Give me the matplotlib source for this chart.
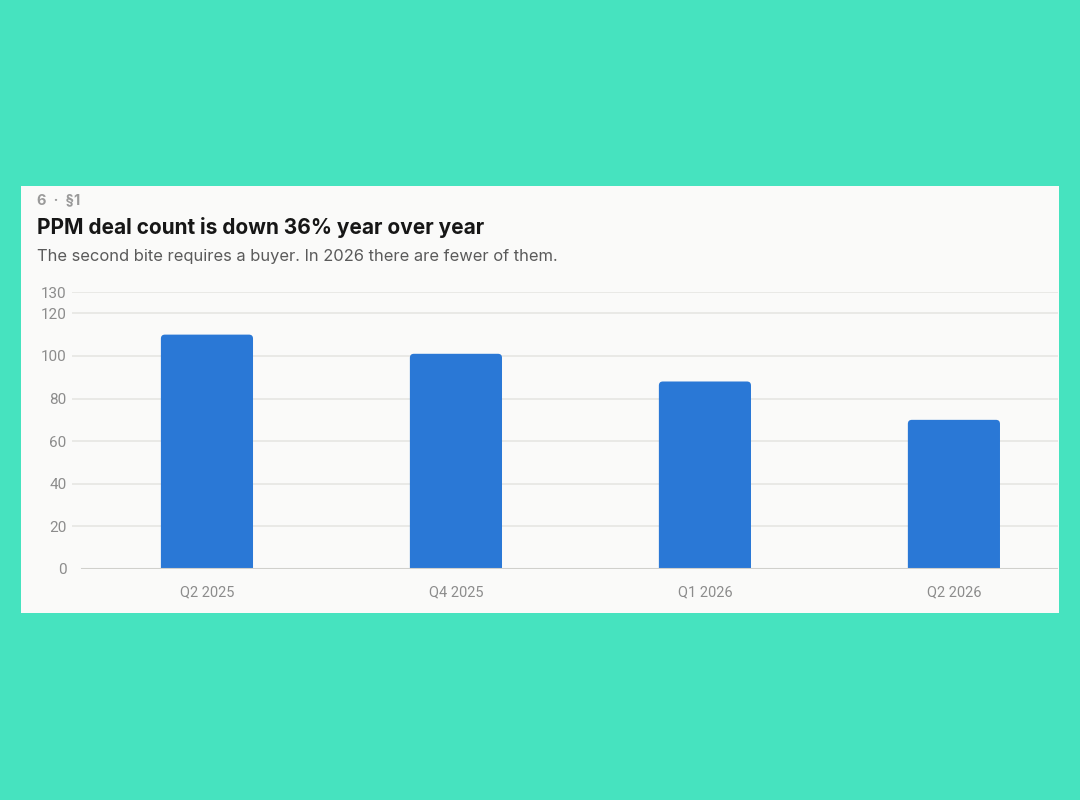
import matplotlib.pyplot as plt
from matplotlib.patches import FancyBboxPatch, Rectangle

quarters = ['Q2 2025', 'Q4 2025', 'Q1 2026', 'Q2 2026']
deal_counts = [110, 101, 88, 70]
y_ticks = [0, 20, 40, 60, 80, 100, 120, 130]

kicker = '6  ·  §1'
title = 'PPM deal count is down 36% year over year'
subtitle = 'The second bite requires a buyer. In 2026 there are fewer of them.'

BG = '#46E3BF'
CARD = '#FAFAF9'
BAR = '#2A78D6'
GRID = '#E6E6E3'
TICK = '#8C8C8C'

W, H = 1080, 800
fig = plt.figure(figsize=(W / 100, H / 100), dpi=100, facecolor=BG)


def fx(px):
    return px / W


def fy(px):
    return 1 - px / H


# white card behind everything
fig.patches.append(Rectangle((fx(21), fy(613)), fx(1059 - 21), (613 - 186) / H,
                             transform=fig.transFigure, facecolor=CARD,
                             edgecolor='none', zorder=-10))

fig.text(fx(37), fy(200), kicker, fontsize=10.5, fontweight='bold',
         color='#9A9A9A', family=['Inter', 'DejaVu Sans'], va='center')
fig.text(fx(37), fy(228), title, fontsize=15.0, fontweight='bold',
         color='#161616', family=['Inter', 'DejaVu Sans'], va='center')
fig.text(fx(37), fy(256), subtitle, fontsize=11.9,
         color='#5A5A5A', family=['Inter', 'DejaVu Sans'], va='center')

ax = fig.add_axes([fx(72), fy(569), fx(1058 - 72), (569 - 292) / H])
ax.set_zorder(1)
ax.set_facecolor('none')
ax.set_xlim(-0.542, 3.418)
ax.set_ylim(0, 130)

for v in y_ticks[1:]:
    ax.axhline(v, color=GRID, lw=1.2, zorder=0)
ax.axhline(0, xmin=(82 - 72) / (1058 - 72), color='#D0D0CC', lw=1.5, zorder=3)

bar_w = 0.37
px_x = 1 / 249
px_y = 130 / (569 - 292)
for i, val in enumerate(deal_counts):
    p = FancyBboxPatch((i - bar_w / 2, -5), bar_w, val + 5,
                       boxstyle=f'round,pad=0,rounding_size={4 * px_x}',
                       mutation_aspect=px_y / px_x,
                       facecolor=BAR, edgecolor='none', zorder=2)
    ax.add_patch(p)

ax.set_xticks(range(len(quarters)))
ax.set_xticklabels(quarters)
ax.set_yticks(y_ticks)
ax.tick_params(axis='both', length=0, colors=TICK)
ax.tick_params(axis='y', pad=4, labelsize=11)
ax.tick_params(axis='x', pad=12, labelsize=10.5)
for lab in ax.get_xticklabels() + ax.get_yticklabels():
    lab.set_family(['Roboto', 'DejaVu Sans'])
for s in ax.spines.values():
    s.set_visible(False)

fig.savefig('out.png', dpi=100, facecolor=BG)
